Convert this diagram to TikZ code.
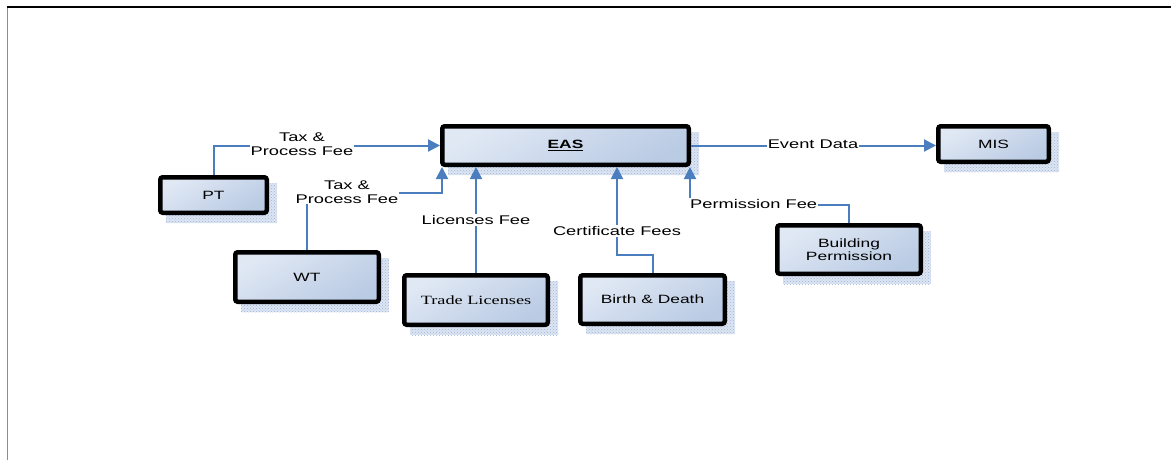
\documentclass[tikz,border=0pt]{standalone}
\usepackage{fontspec}
\setmainfont{Liberation Sans}
\newfontfamily\wideSans[FakeStretch=1.45]{Liberation Sans}
\newfontfamily\wideSerif[FakeStretch=1.45]{Liberation Serif}
\usetikzlibrary{arrows.meta,patterns,backgrounds,calc}

\definecolor{boxlight}{HTML}{E0E8F4}
\definecolor{boxdark}{HTML}{BACBE4}
\definecolor{flowblue}{HTML}{4A7EBF}
\definecolor{shadowblue}{HTML}{9DB5DA}

\tikzset{
  procbox/.style={draw=black, line width=4.5pt, rounded corners=2.5pt,
    top color=boxlight, bottom color=boxdark, shading angle=30,
    align=center, inner sep=0pt,
    font=\wideSans\fontsize{12}{14}\selectfont},
  flow/.style={draw=flowblue, line width=2pt,
    -{Triangle[length=12pt,width=12pt]}},
  flowlbl/.style={fill=white, inner sep=1pt, align=center,
    font=\wideSans\fontsize{12.6}{13.5}\selectfont},
  boxshade/.style={fill=shadowblue!35},
  boxdots/.style={pattern=crosshatch dots, pattern color=shadowblue},
}
\newcommand\shadowof[1]{%
  \fill[boxshade] ([shift={(8,8)}]#1.north west) rectangle ([shift={(8,8)}]#1.south east);
  \fill[boxdots] ([shift={(8,8)}]#1.north west) rectangle ([shift={(8,8)}]#1.south east);}

\begin{document}
\begin{tikzpicture}[x=1pt, y=-1pt]
  \useasboundingbox (0,0) rectangle (1171,460);

  % page frame
  \draw[black, line width=2pt] (7,7) -- (1171,7);
  \draw[black!45, line width=1pt] (7.5,8) -- (7.5,460);

  % process boxes
  \node[procbox, minimum width=106.5pt, minimum height=35.5pt] (pt) at (213.5,195) {PT};
  \node[procbox, minimum width=143.5pt, minimum height=49.5pt] (wt) at (307,277) {WT};
  \node[procbox, minimum width=143.5pt, minimum height=49.5pt,
        font=\wideSerif\fontsize{12.6}{14}\selectfont] (tl) at (476,300) {Trade Licenses};
  \node[procbox, minimum width=144.5pt, minimum height=48.5pt] (bd) at (652.5,299.5) {Birth \& Death};
  \node[procbox, minimum width=246.5pt, minimum height=38.5pt] (eas) at (565.5,145.5)
        {\bfseries\underline{EAS}};
  \node[procbox, minimum width=110.5pt, minimum height=35.5pt] (mis) at (993.5,144) {MIS};
  \node[procbox, minimum width=143.5pt, minimum height=48.5pt] (bp) at (849,249.5)
        {Building\\[-1pt]Permission};

  % dotted drop shadows
  \begin{scope}[on background layer]
    \foreach \b in {pt,wt,tl,bd,eas,mis,bp} {\shadowof{\b}}
  \end{scope}

  % bend points of the flows
  \coordinate (wtbend) at (442,193);
  \coordinate (bdbend) at (617,255);
  \coordinate (bpbend) at (690,205);

  % flows into and out of EAS
  \draw[flow] (pt.north) |- (eas.west);
  \draw[flow] (wt.north) |- (wtbend) -- (wtbend |- eas.south);
  \draw[flow] (tl.north) -- (tl.north |- eas.south);
  \draw[flow] (bd.north) |- (bdbend) -- (bdbend |- eas.south);
  \draw[flow] (bp.north) |- (bpbend) -- (bpbend |- eas.south);
  \draw[flow] (eas.east) -- (eas.east -| mis.west);

  % flow labels
  \node[flowlbl] (l1) at (302,144) {Tax \&\\Process Fee};
  \node[flowlbl] (l2) at (347,192) {Tax \&\\Process Fee};
  \node[flowlbl] (l3) at (476,220) {Licenses Fee};
  \node[flowlbl] (l4) at (617,231) {Certificate Fees};
  \node[flowlbl, anchor=west] (l5) at (689,204) {Permission Fee};
  \node[flowlbl] (l6) at (813,144) {Event Data};
\end{tikzpicture}
\end{document}
